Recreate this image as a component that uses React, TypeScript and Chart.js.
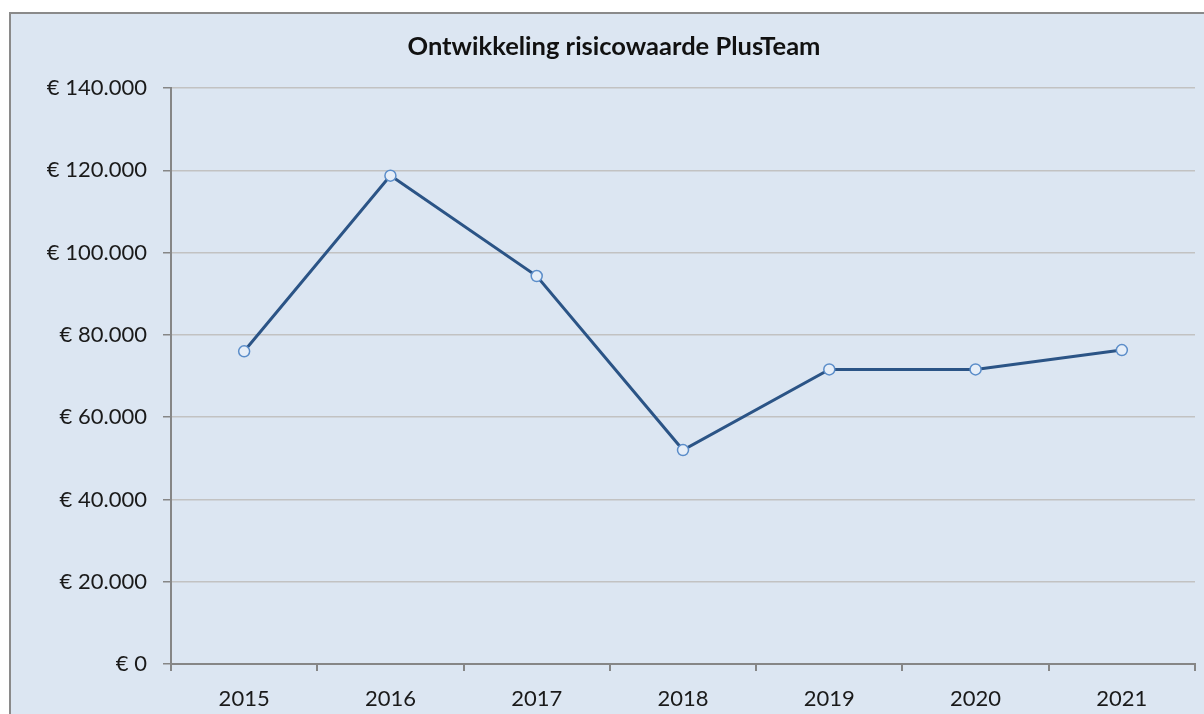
import React, { useEffect, useRef } from "react";
import { Chart, registerables } from "chart.js";

Chart.register(...registerables);

const chartTitle = "Ontwikkeling risicowaarde PlusTeam";
const years = ["2015", "2016", "2017", "2018", "2019", "2020", "2021"];
const riskValues = [76000, 118700, 94300, 52000, 71600, 71600, 76300];
const yMin = 0;
const yMax = 140000;
const yStep = 20000;

const formatEuro = (v: number) =>
  "€ " + String(Math.round(v)).replace(/\B(?=(\d{3})+(?!\d))/g, ".");

const frame = {
  id: "frame",
  beforeDraw(chart: any) {
    const { ctx, width, height } = chart;
    ctx.save();
    ctx.fillStyle = "#ffffff";
    ctx.fillRect(0, 0, width, height);
    ctx.fillStyle = "#dce6f2";
    ctx.fillRect(10, 13, width - 10, height - 13);
    ctx.strokeStyle = "#8a8a8a";
    ctx.lineWidth = 2;
    ctx.beginPath();
    ctx.moveTo(10, height + 2);
    ctx.lineTo(10, 13);
    ctx.lineTo(width + 2, 13);
    ctx.stroke();
    ctx.restore();
  },
};

export default function App() {
  const ref = useRef<HTMLCanvasElement | null>(null);

  useEffect(() => {
    if (!ref.current) return;
    const chart = new Chart(ref.current, {
      type: "line",
      data: {
        labels: years,
        datasets: [
          {
            label: "Risicowaarde",
            data: riskValues,
            borderColor: "#2b5486",
            borderWidth: 3,
            pointRadius: 5.5,
            pointBorderWidth: 1.5,
            pointBorderColor: "#5b8dc9",
            pointBackgroundColor: "#e6eef8",
            tension: 0,
          },
        ],
      },
      options: {
        animation: false,
        responsive: false,
        layout: { padding: { left: 33, right: 9, top: 0, bottom: 0 } },
        plugins: {
          legend: { display: false },
          tooltip: { enabled: false },
          title: {
            display: true,
            text: chartTitle,
            color: "#111111",
            font: { family: "Lato", size: 25.5, weight: "bold" },
            padding: { top: 31.7, bottom: 25.7 },
          },
        },
        scales: {
          x: {
            offset: true,
            grid: {
              display: true,
              offset: true,
              drawOnChartArea: false,
              drawTicks: true,
              tickLength: 7,
              tickColor: "#868686",
              lineWidth: 2,
            },
            border: { color: "#868686", width: 2 },
            ticks: {
              color: "#1a1a1a",
              font: { family: "Lato", size: 22 },
              padding: 15,
              maxRotation: 0,
            },
            afterFit(scale: any) {
              scale.height = 50;
            },
          },
          y: {
            min: yMin,
            max: yMax,
            grid: {
              color: "#c2c2c2",
              lineWidth: 1.5,
              drawTicks: true,
              tickLength: 8,
              tickColor: "#868686",
            },
            border: { color: "#868686", width: 2 },
            ticks: {
              stepSize: yStep,
              color: "#1a1a1a",
              font: { family: "Lato", size: 22 },
              padding: 16,
              callback: (v: any) => formatEuro(Number(v)),
            },
            afterFit(scale: any) {
              scale.width = 138;
            },
          },
        },
      },
      plugins: [frame],
    });
    return () => chart.destroy();
  }, []);

  return (
    <div style={{ position: "fixed", left: 0, top: 0, width: 1204, height: 714, overflow: "hidden" }}>
      <canvas ref={ref} width={1204} height={714} style={{ display: "block", width: 1204, height: 714 }} />
    </div>
  );
}
